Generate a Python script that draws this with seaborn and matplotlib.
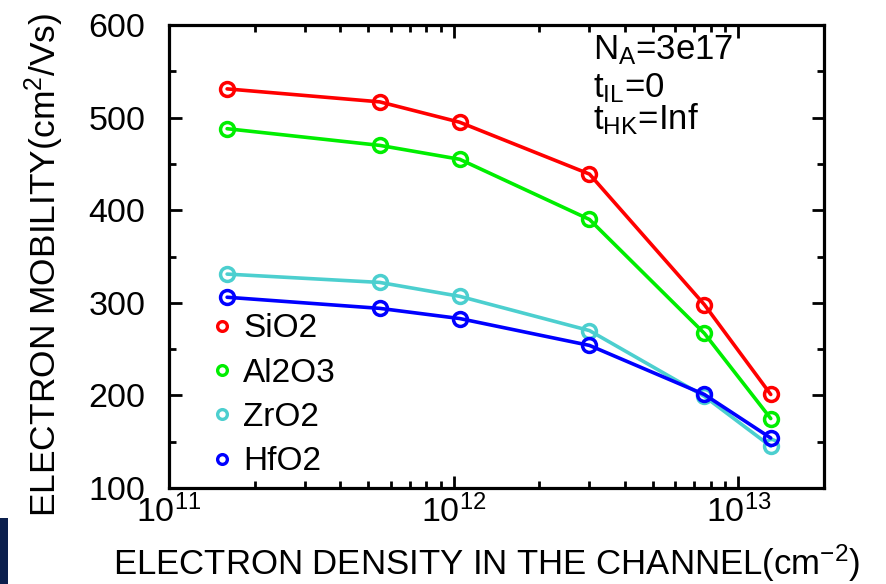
import numpy as np
import pandas as pd
import matplotlib
matplotlib.use("Agg")
import matplotlib.pyplot as plt
import seaborn as sns
from matplotlib.lines import Line2D
from matplotlib.ticker import LogLocator, MultipleLocator, NullFormatter
from matplotlib.patches import Rectangle

# ---- data ----
density = [1.6e11, 5.5e11, 1.05e12, 3.0e12, 7.6e12, 1.3e13]
sio2 = [531, 517, 495, 439, 298, 201]
al2o3 = [488, 470, 455, 390, 267, 175]
zro2 = [331, 322, 307, 270, 199, 145]
hfo2 = [306, 294, 283, 254, 201, 154]
materials = ["SiO2", "Al2O3", "ZrO2", "HfO2"]
colors = ["#ff0000", "#00ee00", "#4ccfcf", "#0000ff"]
annot_lines = [r"N$_\mathregular{A}$=3e17", r"t$_\mathregular{IL}$=0", r"t$_\mathregular{HK}$=Inf"]

df = pd.DataFrame({
    "density": density * 4,
    "mobility": sio2 + al2o3 + zro2 + hfo2,
    "material": sum([[m] * len(density) for m in materials], []),
})

sns.set_theme(style="ticks")
plt.rcParams["font.family"] = ["Liberation Sans", "DejaVu Sans"]
plt.rcParams["mathtext.fontset"] = "custom"
plt.rcParams["mathtext.rm"] = "Liberation Sans"
plt.rcParams["mathtext.it"] = "Liberation Sans"
plt.rcParams["mathtext.bf"] = "Liberation Sans"
for k in ["text.color", "axes.labelcolor", "xtick.color", "ytick.color",
          "xtick.labelcolor", "ytick.labelcolor"]:
    plt.rcParams[k] = "black"

fig = plt.figure(figsize=(8.87, 5.84), dpi=100)
ax = fig.add_axes([169 / 887, 1 - 488 / 584, (824 - 169) / 887, (488 - 25) / 584])

pal = dict(zip(materials, colors))
sns.lineplot(data=df, x="density", y="mobility", hue="material", hue_order=materials,
             palette=pal, marker="o", markersize=10, markerfacecolor="none",
             markeredgewidth=2.5, linewidth=2.6, legend=False, ax=ax)
for line, c in zip(ax.get_lines(), colors):
    line.set_markeredgecolor(c)

ax.set_xscale("log")
ax.set_xlim(1e11, 2e13)
ax.set_ylim(100, 600)
ax.yaxis.set_major_locator(MultipleLocator(100))
ax.yaxis.set_minor_locator(MultipleLocator(50))
ax.xaxis.set_major_locator(LogLocator(base=10, numticks=10))
ax.xaxis.set_minor_locator(LogLocator(base=10, subs=np.arange(2, 10), numticks=20))
ax.xaxis.set_minor_formatter(NullFormatter())

for s in ax.spines.values():
    s.set_linewidth(2.3)
    s.set_color("black")
ax.tick_params(which="both", direction="in", top=True, right=True, width=2, color="black")
ax.tick_params(which="major", length=9, labelsize=24.5)
ax.tick_params(axis="y", which="major", pad=17)
ax.tick_params(axis="x", which="major", pad=5)
ax.tick_params(which="minor", length=5)

ax.set_xlabel(r"ELECTRON DENSITY IN THE CHANNEL(cm$^{-2}$)", fontsize=25)
ax.xaxis.set_label_coords((487 - 169) / 655, (488 - 542) / 463)
ax.set_ylabel(r"ELECTRON MOBILITY(cm$^{2}$/Vs)", fontsize=25.5)
ax.yaxis.set_label_coords((66 - 169) / 655, (488 - 265) / 463)

handles = [Line2D([], [], linestyle="none", marker="o", markersize=7, markerfacecolor="none",
                  markeredgewidth=2.4, markeredgecolor=c) for c in colors]
ax.legend(handles, materials, loc="center left", bbox_to_anchor=(0.055, 0.2), frameon=False,
          fontsize=24, handletextpad=0.15, labelspacing=0.4, handlelength=1.0,
          borderaxespad=0, borderpad=0)

baselines = [0.9266, 0.8445, 0.774]
for txt, yb in zip(annot_lines, baselines):
    ax.text(0.647, yb, txt, transform=ax.transAxes, fontsize=25, va="baseline", ha="left")

fig.patches.append(Rectangle((0, 0), 8 / 887, 66 / 584, transform=fig.transFigure,
                             facecolor="#0b1f4d", edgecolor="none"))

fig.savefig("out.png", dpi=100)
